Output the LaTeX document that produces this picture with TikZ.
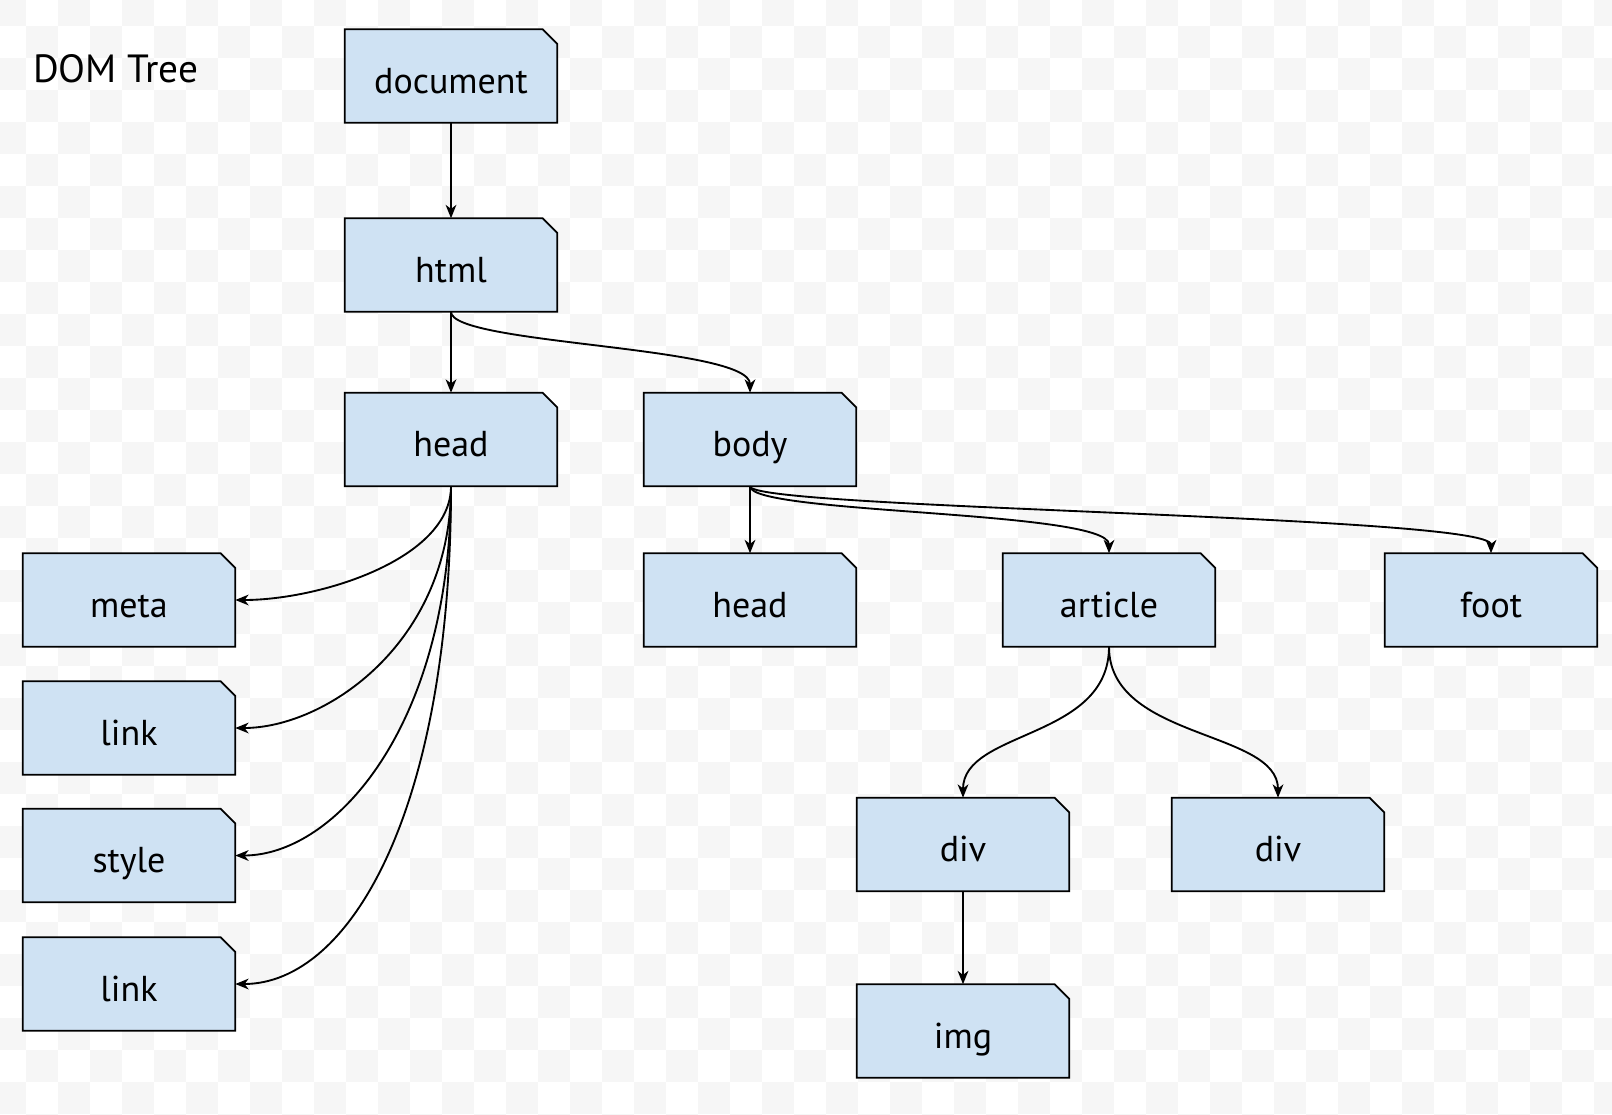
\documentclass[tikz,border=0pt]{standalone}
\usepackage{fontspec}
\setmainfont{PT Sans}
\usetikzlibrary{arrows.meta}
\definecolor{boxfill}{HTML}{CFE2F3}
\definecolor{chk}{HTML}{F6F6F6}
\pgfdeclarelayer{checkerlayer}
\pgfdeclarelayer{boxlayer}
\pgfsetlayers{checkerlayer,boxlayer,main}
\tikzset{
  domtext/.style={draw=none, minimum width=159pt, minimum height=69.75pt, inner sep=0pt,
    text height=25.5pt, text depth=0pt, font=\fontsize{27}{32}\selectfont},
  domshape/.style={draw=black, line width=1.35pt, fill=boxfill, line join=miter},
  conn/.style={draw=black, line width=1.4pt, -{Stealth[length=10pt,width=8pt,inset=3pt]}},
  titletext/.style={font=\fontsize{29.5}{34}\selectfont, inner sep=0pt}
}
\newcommand\domnode[4]{%
  \node[domtext] (#1) at (#2,#3) {#4};
  \begin{pgfonlayer}{boxlayer}
    \draw[domshape] (#1.north west) -- ([xshift=-11pt]#1.north east)
      -- ([yshift=-11pt]#1.north east) -- (#1.south east) -- (#1.south west) -- cycle;
  \end{pgfonlayer}}
\begin{document}
\begin{tikzpicture}[x=0.75pt,y=-0.75pt]
\useasboundingbox (0,0) rectangle (1612,1114);
\begin{pgfonlayer}{checkerlayer}
  \fill[white] (0,0) rectangle (1612,1114);
  \begin{scope}
    \clip (0,0) rectangle (1612,1114);
    \foreach \i in {-1,1,...,49}{\foreach \j in {-1,1,...,33}{
      \fill[chk] ({26+32*\i},{26+32*\j}) rectangle +(32,32);
      \fill[chk] ({58+32*\i},{58+32*\j}) rectangle +(32,32);
    }}
  \end{scope}
\end{pgfonlayer}

\node[titletext, anchor=base west] (title) at (33,82) {DOM Tree};

\domnode{doc}{451}{76}{document}
\domnode{html}{451}{265}{html}
\domnode{head}{451}{439.5}{head}
\domnode{body}{750}{439.5}{body}
\domnode{meta}{129}{600}{meta}
\domnode{linka}{129}{728}{link}
\domnode{style}{129}{855.5}{style}
\domnode{linkb}{129}{984}{link}
\domnode{headb}{750}{600}{head}
\domnode{article}{1109}{600}{article}
\domnode{foot}{1491}{600}{foot}
\domnode{diva}{963}{844.5}{div}
\domnode{divb}{1278}{844.5}{div}
\domnode{img}{963}{1031}{img}

\draw[conn] (doc) -- (html);
\draw[conn] (html) -- (head);
\draw[conn] (html.south) .. controls +(0,33) and +(0,-47) .. (body.north);
\draw[conn] (head.south) .. controls +(0,73) and +(84,0) .. (meta.east);
\draw[conn] (head.south) .. controls +(0,157) and +(90,0) .. (linka.east);
\draw[conn] (head.south) .. controls +(0,239) and +(100,0) .. (style.east);
\draw[conn] (head.south) .. controls +(0,323) and +(115,0) .. (linkb.east);
\draw[conn] (body) -- (headb);
\draw[conn] (body.south) .. controls +(0,28) and +(0,-43) .. (article.north);
\draw[conn] (body.south) .. controls +(0,23) and +(0,-38) .. (foot.north);
\draw[conn] (article.south) .. controls +(0,93) and +(0,-68) .. (diva.north);
\draw[conn] (article.south) .. controls +(0,93) and +(0,-68) .. (divb.north);
\draw[conn] (diva) -- (img);
\end{tikzpicture}
\end{document}
